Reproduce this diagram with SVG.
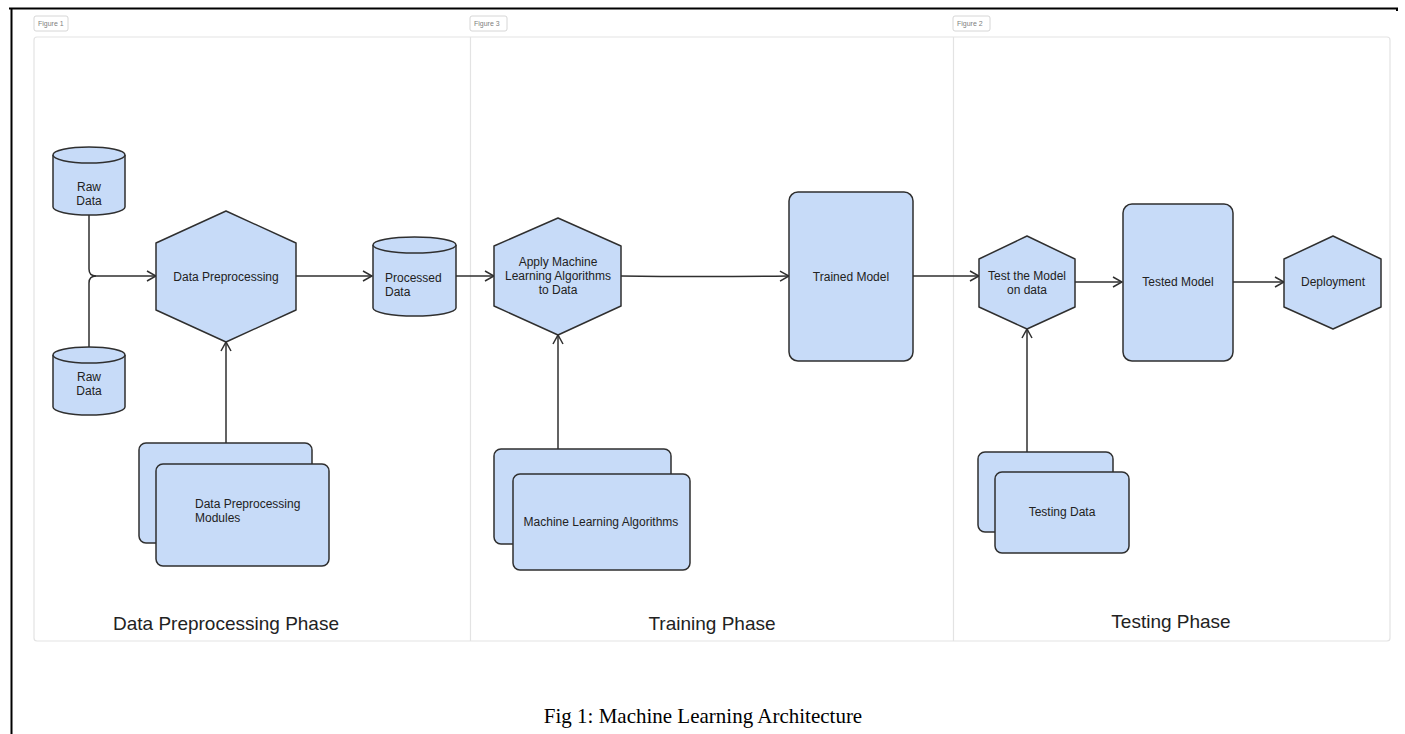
<svg xmlns="http://www.w3.org/2000/svg" width="1405" height="734" viewBox="0 0 1405 734">
<defs>
<style>
.node{fill:#c7dbf8;stroke:#2f2f2f;stroke-width:1.5;stroke-linejoin:round}
.lbl{font-family:"Liberation Sans",Arial,sans-serif;font-size:12px;fill:#222}
.phase{font-family:"Liberation Sans",Arial,sans-serif;font-size:19px;fill:#222;text-anchor:middle}
.fig{font-family:"Liberation Sans",Arial,sans-serif;font-size:7px;fill:#808080}
.figbox{fill:#fff;stroke:#d6d6d6;stroke-width:1}
.panel{fill:#fff;stroke:#e3e3e3;stroke-width:1.2}
.conn{fill:none;stroke:#2f2f2f;stroke-width:1.5}
</style>
<marker id="arr" viewBox="0 0 12 12" refX="11" refY="6" markerWidth="12" markerHeight="12" markerUnits="userSpaceOnUse" orient="auto">
<path d="M2,1 L11,6 L2,11" fill="none" stroke="#2f2f2f" stroke-width="1.5"/>
</marker>
</defs>
<rect width="1405" height="734" fill="#fff"/>
<g id="page-border">
<path d="M9,8.5 H1397 V11" fill="none" stroke="#000" stroke-width="2"/>
<path d="M11.5,8 V734" fill="none" stroke="#000" stroke-width="2"/>
</g>
<g id="panels">
<rect class="panel" x="34" y="37" width="1356" height="604" rx="3"/>
<line x1="470.5" y1="37" x2="470.5" y2="641" stroke="#e3e3e3" stroke-width="1.2"/>
<line x1="953.5" y1="37" x2="953.5" y2="641" stroke="#e3e3e3" stroke-width="1.2"/>
<rect class="figbox" x="34" y="16" width="34" height="15" rx="2"/>
<text class="fig" x="38" y="26">Figure 1</text>
<rect class="figbox" x="470" y="16" width="37" height="15" rx="2"/>
<text class="fig" x="474" y="26">Figure 3</text>
<rect class="figbox" x="953" y="16" width="37" height="15" rx="2"/>
<text class="fig" x="957" y="26">Figure 2</text>
<text class="phase" x="226" y="630">Data Preprocessing Phase</text>
<text class="phase" x="712" y="630">Training Phase</text>
<text class="phase" x="1171" y="628">Testing Phase</text>
</g>
<g id="connectors">
<path class="conn" d="M89,215 V269 Q89,276 96,276"/>
<path class="conn" d="M89,347 V283 Q89,276 96,276"/>
<path class="conn" d="M96,276 H156" marker-end="url(#arr)"/>
<path class="conn" d="M296,276 H372" marker-end="url(#arr)"/>
<path class="conn" d="M456,276 H494" marker-end="url(#arr)"/>
<path class="conn" d="M226,443 V342" marker-end="url(#arr)"/>
<path class="conn" d="M621,276 Q700,277 789,276" marker-end="url(#arr)"/>
<path class="conn" d="M558,449 V335" marker-end="url(#arr)"/>
<path class="conn" d="M913,276 H979" marker-end="url(#arr)"/>
<path class="conn" d="M1075,282 H1122" marker-end="url(#arr)"/>
<path class="conn" d="M1233,282 H1284" marker-end="url(#arr)"/>
<path class="conn" d="M1027,452 V329" marker-end="url(#arr)"/>
</g>
<g id="raw-data-1">
<path class="node" d="M53,155 A36,8 0 0 1 125,155 V207 A36,8 0 0 1 53,207 Z"/>
<path class="node" fill="none" d="M53,155 A36,8 0 0 0 125,155"/>
<text class="lbl" x="89" y="191" text-anchor="middle">Raw</text>
<text class="lbl" x="89" y="205" text-anchor="middle">Data</text>
</g>
<g id="raw-data-2">
<path class="node" d="M53,355 A36,8 0 0 1 125,355 V407 A36,8 0 0 1 53,407 Z"/>
<path class="node" fill="none" d="M53,355 A36,8 0 0 0 125,355"/>
<text class="lbl" x="89" y="381" text-anchor="middle">Raw</text>
<text class="lbl" x="89" y="395" text-anchor="middle">Data</text>
</g>
<g id="data-preprocessing">
<polygon class="node" points="226,211 296,243 296,310 226,342 156,310 156,243"/>
<text class="lbl" x="226" y="281" text-anchor="middle">Data Preprocessing</text>
</g>
<g id="processed-data">
<path class="node" d="M373,245 A41.5,8 0 0 1 456,245 V308 A41.5,8 0 0 1 373,308 Z"/>
<path class="node" fill="none" d="M373,245 A41.5,8 0 0 0 456,245"/>
<text class="lbl" x="385" y="282">Processed</text>
<text class="lbl" x="385" y="296">Data</text>
</g>
<g id="dp-modules">
<rect class="node" x="139" y="443" width="173" height="100" rx="7"/>
<rect class="node" x="156" y="464" width="173" height="102" rx="7"/>
<text class="lbl" x="195" y="508">Data Preprocessing</text>
<text class="lbl" x="195" y="522">Modules</text>
</g>
<g id="apply-ml">
<polygon class="node" points="558,218 621,246 621,306 558,335 494,306 494,246"/>
<text class="lbl" x="558" y="266" text-anchor="middle">Apply Machine</text>
<text class="lbl" x="558" y="280" text-anchor="middle">Learning Algorithms</text>
<text class="lbl" x="558" y="294" text-anchor="middle">to Data</text>
</g>
<g id="ml-algorithms">
<rect class="node" x="494" y="449" width="177" height="95" rx="7"/>
<rect class="node" x="513" y="474" width="177" height="96" rx="7"/>
<text class="lbl" x="601" y="526" text-anchor="middle">Machine Learning Algorithms</text>
</g>
<g id="trained-model">
<rect class="node" x="789" y="192" width="124" height="169" rx="9"/>
<text class="lbl" x="851" y="281" text-anchor="middle">Trained Model</text>
</g>
<g id="test-model">
<polygon class="node" points="1027,236 1075,259 1075,307 1027,329 979,307 979,259"/>
<text class="lbl" x="1027" y="280" text-anchor="middle">Test the Model</text>
<text class="lbl" x="1027" y="294" text-anchor="middle">on data</text>
</g>
<g id="testing-data">
<rect class="node" x="978" y="452" width="135" height="80" rx="7"/>
<rect class="node" x="995" y="472" width="134" height="81" rx="7"/>
<text class="lbl" x="1062" y="516" text-anchor="middle">Testing Data</text>
</g>
<g id="tested-model">
<rect class="node" x="1123" y="204" width="110" height="157" rx="9"/>
<text class="lbl" x="1178" y="286" text-anchor="middle">Tested Model</text>
</g>
<g id="deployment">
<polygon class="node" points="1333,236 1381,259 1381,307 1333,329 1284,307 1284,259"/>
<text class="lbl" x="1333" y="286" text-anchor="middle">Deployment</text>
</g>
<text x="703" y="723" font-family="'Liberation Serif','Times New Roman',serif" font-size="21" text-anchor="middle" fill="#000">Fig 1: Machine Learning Architecture</text>
</svg>
